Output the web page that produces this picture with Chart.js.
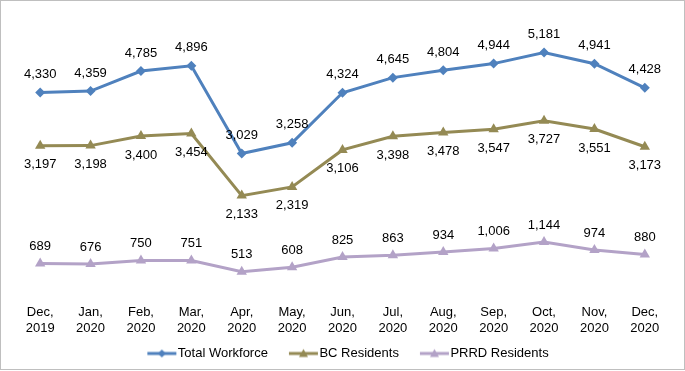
<!DOCTYPE html>
<html><head><meta charset="utf-8">
<script src="https://cdn.jsdelivr.net/npm/chart.js@4/dist/chart.umd.min.js"></script>
<style>
html,body{margin:0;padding:0;background:#fff;}
#wrap{position:relative;width:685px;height:371px;}
</style></head>
<body><div id="wrap"><canvas id="c" width="685" height="371"></canvas></div>
<script>
const categories = [["Dec,","2019"],["Jan,","2020"],["Feb,","2020"],["Mar,","2020"],["Apr,","2020"],["May,","2020"],["Jun,","2020"],["Jul,","2020"],["Aug,","2020"],["Sep,","2020"],["Oct,","2020"],["Nov,","2020"],["Dec,","2020"]];
const totalWorkforce = [4330,4359,4785,4896,3029,3258,4324,4645,4804,4944,5181,4941,4428];
const bcResidents = [3197,3198,3400,3454,2133,2319,3106,3398,3478,3547,3727,3551,3173];
const prrdResidents = [689,676,750,751,513,608,825,863,934,1006,1144,974,880];
const seriesNames = ["Total Workforce","BC Residents","PRRD Residents"];

const colors = ["#4F81BD","#948A54","#B3A2C7"];
const styles = ["rectRot","triangle","triangle"];
const radii = [5,6,6];
const labelOffsets = [-18,19,-17];
const FONT = '"Liberation Sans", Arial, sans-serif';

function legendIcon(color, style){
  const cv = document.createElement('canvas');
  cv.width = 47; cv.height = 12;
  const g = cv.getContext('2d');
  g.strokeStyle = color; g.lineWidth = 3;
  g.beginPath(); g.moveTo(17,6); g.lineTo(46,6); g.stroke();
  g.fillStyle = color;
  const cx = 31.5;
  g.beginPath();
  if(style==='rectRot'){ g.moveTo(cx,2); g.lineTo(cx+4,6); g.lineTo(cx,10); g.lineTo(cx-4,6); }
  else { g.moveTo(cx,1.5); g.lineTo(cx+4.5,9.5); g.lineTo(cx-4.5,9.5); }
  g.closePath(); g.fill();
  return cv;
}

const fmt = v => v.toLocaleString('en-US');

const labelPlugin = {
  id:'valLabels',
  afterDatasetsDraw(chart){
    const ctx = chart.ctx;
    ctx.save();
    ctx.font = '13px ' + FONT;
    ctx.fillStyle = '#000';
    ctx.textAlign = 'center';
    ctx.textBaseline = 'middle';
    chart.data.datasets.forEach((ds,i)=>{
      const meta = chart.getDatasetMeta(i);
      meta.data.forEach((pt,j)=>{
        ctx.fillText(fmt(ds.data[j]), pt.x, pt.y + labelOffsets[i]);
      });
    });
    ctx.restore();
  }
};

const framePlugin = {
  id:'frame',
  afterDraw(chart){
    const ctx = chart.ctx;
    ctx.save();
    ctx.strokeStyle = '#BFBFBF'; ctx.lineWidth = 1;
    ctx.strokeRect(0.5,0.5,chart.width-1,chart.height-2);
    ctx.restore();
  }
};

const dataArrays = [totalWorkforce,bcResidents,prrdResidents];
new Chart(document.getElementById('c'),{
  type:'line',
  data:{
    labels:categories,
    datasets: dataArrays.map((d,i)=>({
      label:seriesNames[i], data:d,
      borderColor:colors[i], backgroundColor:colors[i],
      borderWidth:3, pointStyle:styles[i], pointRadius:radii[i],
      pointBorderWidth:0, pointHoverRadius:radii[i], tension:0
    }))
  },
  options:{
    responsive:false, animation:false,
    layout:{padding:{left:15,right:15,top:14,bottom:1}},
    scales:{
      x:{offset:true, grid:{display:false}, border:{display:false},
         ticks:{color:'#000', font:{family:FONT,size:13}, padding:1, maxRotation:0, autoSkip:false}},
      y:{display:false, min:0, max:6000}
    },
    plugins:{
      tooltip:{enabled:false},
      legend:{position:'bottom',
        labels:{color:'#000', font:{family:FONT,size:13}, usePointStyle:true, pointStyleWidth:35, padding:10,
          generateLabels(chart){
            return chart.data.datasets.map((ds,i)=>({text:ds.label, pointStyle:legendIcon(colors[i],styles[i]), fillStyle:colors[i], strokeStyle:colors[i], lineWidth:0, datasetIndex:i, hidden:false, fontColor:'#000'}));
          }}}
    }
  },
  plugins:[labelPlugin, framePlugin]
});
</script></body></html>
